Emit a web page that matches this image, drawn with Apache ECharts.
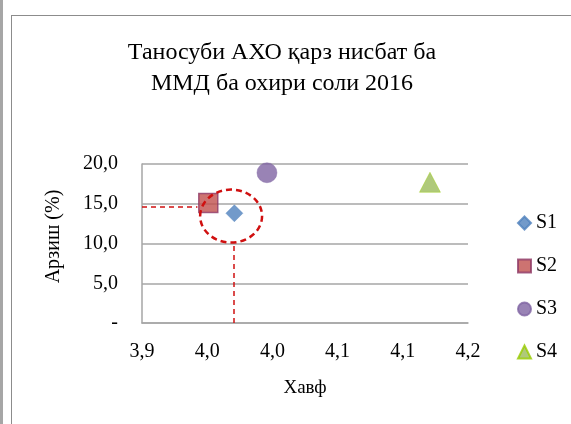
<!DOCTYPE html>
<html>
<head>
<meta charset="utf-8">
<script src="https://cdn.jsdelivr.net/npm/echarts@6.0.0/dist/echarts.min.js"></script>
<style>
  html, body { margin: 0; padding: 0; background: #fff; }
  #chart { width: 571px; height: 424px; }
</style>
</head>
<body>
<div id="chart"></div>
<script>
// данные
const seriesNames = ['S1', 'S2', 'S3', 'S4'];
const riskValues = [3.985, 3.961, 4.015, 4.165];   // Хавф
const valueValues = [13.8, 15.1, 18.9, 17.7];      // Арзиш (%)
const seriesColors = ['#4f81bd', '#c0504d', '#8064a2', '#9bbb59'];
const seriesSymbols = ['diamond', 'rect', 'circle', 'triangle'];
const symbolSizes = [[17, 17], [19, 19], [20, 20], [21, 20]];

// пунктирные линии и эллипс
const guideX = 3.984;
const guideYTop = 10.2;
const guideY = 14.6;
const guideXEnd = 3.951;
const ellipseCenter = [3.982, 13.45];
const ellipseRadius = [0.0285, 3.33];

const fmt = v => v.toFixed(1).replace('.', ',');
const serif = 'Liberation Serif';

let chart = echarts.init(document.getElementById('chart'));

let series = seriesNames.map((name, i) => ({
  name: name,
  type: 'scatter',
  symbol: seriesSymbols[i],
  symbolSize: symbolSizes[i],
  itemStyle: {
    color: seriesColors[i],
    borderColor: i === 1 ? '#8e3a66' : (i === 3 ? '#99cc00' : seriesColors[i]),
    borderWidth: i === 1 ? 1.5 : 0.5
  },
  data: [[riskValues[i], valueValues[i]]],
  z: 3
}));

// эллипс
series.push({
  type: 'custom',
  silent: true,
  data: [[ellipseCenter[0], ellipseCenter[1]]],
  renderItem: function (params, api) {
    let c = api.coord([api.value(0), api.value(1)]);
    let e = api.coord([api.value(0) + ellipseRadius[0], api.value(1) + ellipseRadius[1]]);
    return {
      type: 'ellipse',
      shape: { cx: c[0], cy: c[1], rx: Math.abs(e[0] - c[0]), ry: Math.abs(e[1] - c[1]) },
      style: { fill: 'none', stroke: '#d01010', lineWidth: 2.5, lineDash: [6, 4] }
    };
  },
  z: 4
});

// пунктир
series.push({
  type: 'line',
  silent: true,
  data: [],
  markLine: {
    silent: true,
    symbol: 'none',
    label: { show: false },
    lineStyle: { color: '#d01010', type: [5, 4], width: 1.5 },
    data: [
      [{ coord: [guideX, 0] }, { coord: [guideX, guideYTop] }],
      [{ coord: [3.9, guideY] }, { coord: [guideXEnd, guideY] }]
    ]
  }
});

chart.setOption({
  animation: false,
  title: {
    text: 'Таносуби АХО қарз нисбат ба\nММД ба охири соли 2016',
    left: 277,
    top: 32,
    textAlign: 'center',
    textStyle: { fontFamily: serif, fontSize: 24, fontWeight: 'normal', color: '#000', lineHeight: 31 }
  },
  legend: {
    data: seriesNames,
    orient: 'vertical',
    left: 512,
    top: 208,
    itemWidth: 13,
    itemHeight: 13,
    itemGap: 23,
    textStyle: { fontFamily: serif, fontSize: 20, color: '#000', lineHeight: 19 }
  },
  grid: { left: 142, right: 103, top: 164, bottom: 101, outerBoundsMode: 'none' },
  xAxis: {
    type: 'value',
    min: 3.9,
    max: 4.2,
    interval: 0.06,
    name: 'Хавф',
    nameLocation: 'middle',
    nameGap: 56,
    nameTextStyle: { fontFamily: serif, fontSize: 19, color: '#000' },
    axisLine: { show: true, lineStyle: { color: '#a6a6a6', width: 1.5 } },
    axisTick: { show: false },
    splitLine: { show: false },
    axisLabel: { margin: 19, fontFamily: serif, fontSize: 20, color: '#000', formatter: fmt }
  },
  yAxis: {
    type: 'value',
    min: 0,
    max: 20,
    interval: 5,
    name: 'Арзиш (%)',
    nameLocation: 'middle',
    nameGap: 78,
    nameTextStyle: { fontFamily: serif, fontSize: 20, color: '#000', padding: [0, 0, 0, 14] },
    axisLine: { show: true, lineStyle: { color: '#a6a6a6', width: 1.5 } },
    axisTick: { show: false },
    splitLine: { show: true, lineStyle: { color: '#a6a6a6', width: 1.5 } },
    axisLabel: { margin: 24, fontFamily: serif, fontSize: 20, color: '#000',
      formatter: v => v === 0 ? '-' : fmt(v) }
  },
  graphic: [
    { type: 'rect', shape: { x: 0, y: 0, width: 3, height: 424 }, style: { fill: '#a6a6a6' }, silent: true },
    { type: 'line', shape: { x1: 11.5, y1: 15, x2: 11.5, y2: 424 }, style: { stroke: '#8c8c8c', lineWidth: 1 }, silent: true },
    { type: 'line', shape: { x1: 11, y1: 15.5, x2: 571, y2: 15.5 }, style: { stroke: '#8c8c8c', lineWidth: 1 }, silent: true }
  ],
  series: series
});
</script>
</body>
</html>
